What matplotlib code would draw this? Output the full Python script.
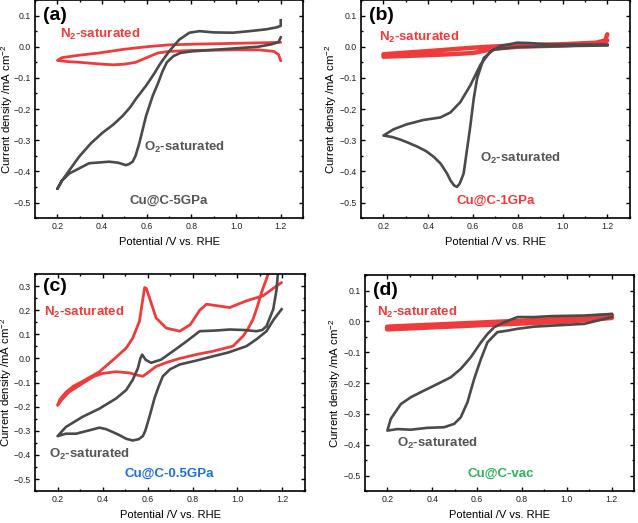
import numpy as np
import matplotlib
matplotlib.use("Agg")
import matplotlib.pyplot as plt
from matplotlib.ticker import MultipleLocator

plt.rcParams['font.family'] = ['Liberation Sans', 'DejaVu Sans']
plt.rcParams['mathtext.default'] = 'regular'

# ---- panel (a) Cu@C-5GPa ----
a_o2_v = [1.2, 1.19, 1.16, 1.1, 1.0, 0.9, 0.8, 0.75, 0.72, 0.69, 0.67, 0.649, 0.627, 0.597, 0.567, 0.55,
          0.537, 0.52, 0.507, 0.47, 0.432, 0.342, 0.253, 0.22, 0.2,
          0.22, 0.25, 0.297, 0.35, 0.402, 0.45, 0.492, 0.525, 0.552, 0.597, 0.63, 0.66, 0.7, 0.746, 0.791,
          0.836, 0.9, 0.986, 1.06, 1.136, 1.18, 1.2, 1.2]
a_o2_j = [0.03, 0.015, 0.008, 0.0, -0.005, -0.01, -0.015, -0.02, -0.03, -0.05, -0.08, -0.12, -0.157, -0.222, -0.309, -0.35,
          -0.369, -0.377, -0.38, -0.372, -0.369, -0.374, -0.407, -0.43, -0.456,
          -0.43, -0.4, -0.353, -0.31, -0.276, -0.25, -0.222, -0.195, -0.167, -0.125, -0.09, -0.055, -0.015, 0.023, 0.045,
          0.05, 0.046, 0.045, 0.05, 0.056, 0.062, 0.067, 0.085]
a_n2_v = [1.2, 1.19, 1.17, 1.1, 1.0, 0.8, 0.7, 0.65, 0.6, 0.55, 0.5, 0.45, 0.4, 0.3, 0.25, 0.2,
          0.22, 0.3, 0.387, 0.5, 0.6, 0.7, 0.8, 1.0, 1.2]
a_n2_j = [-0.045, -0.025, -0.015, -0.01, -0.01, -0.012, -0.015, -0.02, -0.035, -0.05, -0.056, -0.058, -0.056, -0.05, -0.048, -0.044,
          -0.035, -0.027, -0.02, -0.008, 0.0, 0.006, 0.008, 0.011, 0.014]

# ---- panel (b) Cu@C-1GPa ----
b_o2_v = [1.2, 1.0, 0.797, 0.692, 0.648, 0.618, 0.603, 0.588, 0.573, 0.558, 0.54, 0.528, 0.515, 0.5, 0.484, 0.455,
          0.424, 0.39, 0.349, 0.31, 0.275, 0.24, 0.2,
          0.245, 0.304, 0.379, 0.454, 0.499, 0.543, 0.588, 0.633, 0.678, 0.722, 0.797, 0.85, 0.946, 1.2]
b_o2_j = [0.004, 0.002, -0.001, -0.009, -0.036, -0.102, -0.167, -0.254, -0.331, -0.407, -0.44, -0.45, -0.445, -0.43, -0.407, -0.375,
          -0.353, -0.335, -0.32, -0.308, -0.298, -0.29, -0.285,
          -0.265, -0.249, -0.235, -0.227, -0.211, -0.178, -0.124, -0.058, -0.015, 0.002, 0.013, 0.012, 0.007, 0.007]
b_n2_v = [1.2, 1.19, 1.15, 1.0, 0.8, 0.7, 0.6, 0.5, 0.4, 0.2, 0.2, 0.4, 0.6, 0.8, 1.0, 1.15, 1.19, 1.2]
b_n2_j = [0.02, 0.015, 0.01, 0.004, 0.0, -0.006, -0.02, -0.024, -0.027, -0.032,
          -0.024, -0.014, -0.003, 0.005, 0.008, 0.013, 0.02, 0.04]

# ---- panel (c) Cu@C-0.5GPa ----
c_o2_v = [1.196, 1.16, 1.129, 1.085, 1.04, 0.96, 0.891, 0.82, 0.743, 0.7, 0.668, 0.648, 0.631, 0.609, 0.59, 0.579,
          0.56, 0.534, 0.505, 0.475, 0.445, 0.415, 0.386, 0.341, 0.282, 0.237, 0.2,
          0.237, 0.311, 0.386, 0.46, 0.505, 0.534, 0.557, 0.568, 0.576, 0.592, 0.616, 0.66, 0.713, 0.772, 0.832,
          0.906, 0.965, 1.03, 1.084, 1.11, 1.129, 1.159, 1.174, 1.18]
c_o2_j = [0.204, 0.16, 0.113, 0.08, 0.051, 0.025, 0.009, -0.008, -0.025, -0.045, -0.074, -0.12, -0.165, -0.24, -0.3, -0.322,
          -0.335, -0.34, -0.333, -0.318, -0.305, -0.293, -0.287, -0.298, -0.312, -0.312, -0.322,
          -0.284, -0.242, -0.208, -0.166, -0.131, -0.089, -0.041, 0.0, 0.016, -0.006, -0.018, -0.005, 0.03, 0.07, 0.113,
          0.116, 0.12, 0.118, 0.113, 0.118, 0.134, 0.204, 0.287, 0.36]
c_n2_v = [1.14, 1.125, 1.107, 1.09, 1.069, 1.045, 1.025, 0.98, 0.891, 0.82, 0.743, 0.69, 0.638, 0.6, 0.579, 0.55, 0.52,
          0.46, 0.4, 0.36, 0.3, 0.25, 0.22, 0.2,
          0.21, 0.237, 0.27, 0.311, 0.386, 0.46, 0.505, 0.534, 0.564, 0.587, 0.595, 0.609, 0.638, 0.683, 0.743,
          0.79, 0.832, 0.862, 0.965, 1.04, 1.114, 1.158, 1.196]
c_n2_j = [0.36, 0.32, 0.274, 0.22, 0.162, 0.12, 0.093, 0.051, 0.03, 0.017, 0.0, -0.015, -0.033, -0.06, -0.074, -0.068, -0.06,
          -0.055, -0.062, -0.075, -0.11, -0.14, -0.17, -0.195,
          -0.17, -0.14, -0.115, -0.095, -0.055, 0.005, 0.043, 0.084, 0.154, 0.294, 0.29, 0.25, 0.168, 0.126, 0.113,
          0.14, 0.2, 0.225, 0.211, 0.239, 0.26, 0.29, 0.315]

# ---- panel (d) Cu@C-vac ----
d_o2_v = [1.2, 1.078, 0.929, 0.855, 0.78, 0.735, 0.69, 0.646, 0.617, 0.587, 0.557, 0.527, 0.498, 0.453, 0.379, 0.304,
          0.245, 0.2,
          0.215, 0.26, 0.304, 0.364, 0.423, 0.483, 0.527, 0.572, 0.617, 0.646, 0.676, 0.721, 0.78, 0.855, 0.929,
          1.078, 1.2]
d_o2_j = [0.014, -0.008, -0.014, -0.017, -0.024, -0.03, -0.035, -0.068, -0.122, -0.186, -0.262, -0.311, -0.332, -0.343,
          -0.345, -0.351, -0.349, -0.354,
          -0.316, -0.268, -0.246, -0.224, -0.203, -0.181, -0.154, -0.116, -0.068, -0.041, -0.019, -0.003, 0.014, 0.014,
          0.017, 0.019, 0.024]
d_n2_v = [1.2, 1.0, 0.6, 0.2, 0.2, 0.6, 1.0, 1.2]
d_n2_j = [0.012, 0.0, -0.012, -0.025, -0.018, -0.005, 0.008, 0.02]

panels = [
    ('(a)', a_o2_v, a_o2_j, a_n2_v, a_n2_j, 2.0, 0.15, 'Cu@C-5GPa', '#555555',
     (0.21, 0.039), (0.586, -0.322), (0.523, -0.495), -0.106),
    ('(b)', b_o2_v, b_o2_j, b_n2_v, b_n2_j, 3.2, 0.15, 'Cu@C-1GPa', '#ef3b3b',
     (0.182, 0.029), (0.633, -0.358), (0.528, -0.494), -0.112),
    ('(c)', c_o2_v, c_o2_j, c_n2_v, c_n2_j, 2.0, 0.35, 'Cu@C-0.5GPa', '#1f6fd6',
     (0.138, 0.189), (0.16, -0.398), (0.497, -0.479), -0.106),
    ('(d)', d_o2_v, d_o2_j, d_n2_v, d_n2_j, 3.6, 0.15, 'Cu@C-vac', '#2db35c',
     (0.155, 0.03), (0.242, -0.394), (0.557, -0.495), -0.112),
]

boxes = [[0.055, 0.583, 0.420, 0.417],
         [0.566, 0.583, 0.421, 0.417],
         [0.055, 0.061, 0.423, 0.415],
         [0.572, 0.061, 0.422, 0.413]]

gray = '#4a4a4a'
red = '#ef3b3b'

fig = plt.figure(figsize=(6.38, 5.23), dpi=100)
for box, p in zip(boxes, panels):
    tag, ov, oj, nv, nj, nlw, ytop, name, ncol, npos, opos, cpos, ylx = p
    ax = fig.add_axes(box)
    ax.plot(nv, nj, color=red, lw=nlw, solid_capstyle='round', solid_joinstyle='round')
    ax.plot(ov, oj, color=gray, lw=1.9, solid_joinstyle='round')
    ax.set_xlim(0.1, 1.3)
    ax.set_ylim(-0.55, ytop)
    ax.xaxis.set_major_locator(MultipleLocator(0.2))
    ax.xaxis.set_minor_locator(MultipleLocator(0.1))
    ax.yaxis.set_major_locator(MultipleLocator(0.1))
    ax.yaxis.set_minor_locator(MultipleLocator(0.05))
    ax.tick_params(which='both', direction='in', top=True, right=True, labelsize=6.3,
                   labelcolor='#222222', width=1.0, pad=3)
    ax.tick_params(which='major', length=3)
    ax.tick_params(which='minor', length=1.6)
    for s in ax.spines.values():
        s.set_linewidth(1.2)
    ax.set_xlabel('Potential /V vs. RHE', fontsize=8, labelpad=4)
    ax.set_ylabel('Current density /mA cm$^{-2}$', fontsize=8.2, va='center')
    ax.yaxis.set_label_coords(ylx, 0.5)
    ax.text(0.135, ytop - 0.05, tag, fontsize=14, fontweight='bold', va='center', ha='left')
    ax.text(npos[0], npos[1], 'N$_2$-saturated', color=red, fontsize=9.5, fontweight='bold', va='center')
    ax.text(opos[0], opos[1], 'O$_2$-saturated', color='#555555', fontsize=9.5, fontweight='bold', va='center')
    ax.text(cpos[0], cpos[1], name, color=ncol, fontsize=9.5, fontweight='bold', va='center')

fig.savefig('out.png', dpi=100)
